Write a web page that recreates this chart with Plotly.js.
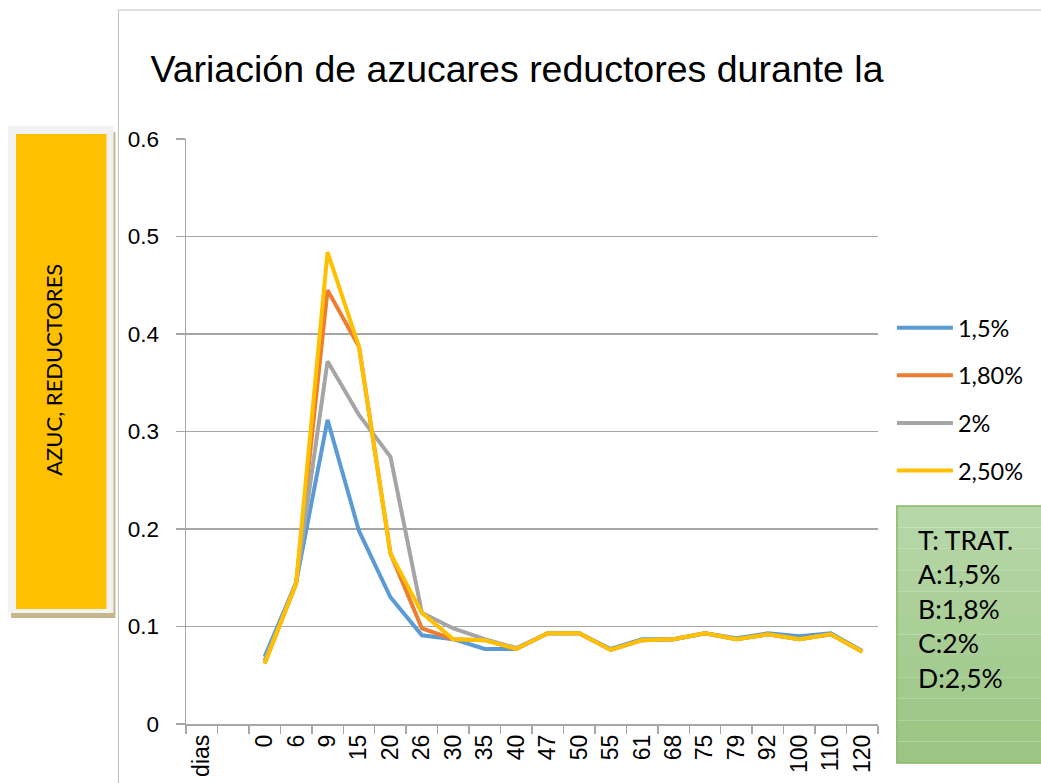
<!DOCTYPE html>
<html>
<head>
<meta charset="utf-8">
<script src="https://cdn.plot.ly/plotly-3.0.1.min.js"></script>
<style>
html,body{margin:0;padding:0;background:#fff;}
#chart{width:1041px;height:783px;}
</style>
</head>
<body>
<div id="chart"></div>
<script>
// ---- data ----
const categories = ['dias',' ','0','6','9','15','20','26','30','35','40','47','50','55','61','68','75','79','92','100','110','120'];
const seriesNames = ['1,5%','1,80%','2%','2,50%'];
const s15 = [null,null,0.069,0.145,0.312,0.198,0.130,0.091,0.087,0.077,0.077,0.093,0.093,0.077,0.087,0.087,0.093,0.088,0.093,0.090,0.093,0.075];
const s18 = [null,null,0.062,0.144,0.445,0.387,0.175,0.098,0.087,0.086,0.077,0.093,0.093,0.076,0.086,0.087,0.093,0.087,0.092,0.087,0.092,0.074];
const s20 = [null,null,0.065,0.144,0.372,0.317,0.274,0.114,0.098,0.087,0.078,0.093,0.093,0.076,0.086,0.087,0.093,0.087,0.092,0.087,0.092,0.074];
const s25 = [null,null,0.062,0.144,0.484,0.387,0.175,0.114,0.087,0.086,0.077,0.093,0.093,0.076,0.086,0.087,0.093,0.087,0.092,0.087,0.092,0.074];
const titleText = 'Variación de azucares reductores durante la';
const yTitleText = 'AZUC, REDUCTORES';
const noteLines = ['T: TRAT.','A:1,5%','B:1,8%','C:2%','D:2,5%'];

// ---- styling ----
const colors = ['#5B9BD5','#ED7D31','#A5A5A5','#FFC000'];
const W = 1041, H = 783;
const L = 186, R = 882, T = 139, B = 724;
const px = x => (x - L) / (R - L);
const py = y => (B - y) / (B - T);
const sans = 'Liberation Sans, Arial, sans-serif';
const cal = 'Lato, Carlito, Calibri, sans-serif';
const grid = '#a6a6a6';

const allSeries = [s15, s18, s20, s25];
const traces = allSeries.map((vals, i) => ({
  type: 'scatter', mode: 'lines',
  x: categories, y: vals, name: seriesNames[i],
  legendgroup: 'g' + i,
  line: {color: colors[i], width: 4},
  connectgaps: false, hoverinfo: 'x+y+name'
}));

const shapes = [];
// outer chart frame
shapes.push({type:'rect', xref:'paper', yref:'paper', x0:px(118), x1:px(1100), y0:py(10), y1:py(850),
  line:{color:'#bfbfbf', width:1}, fillcolor:'rgba(0,0,0,0)', layer:'below'});
// y-title box: shadow, light border, orange
shapes.push({type:'rect', xref:'paper', yref:'paper', x0:px(10), x1:px(115), y0:py(132), y1:py(618),
  line:{width:0}, fillcolor:'#c6b68e'});
shapes.push({type:'rect', xref:'paper', yref:'paper', x0:px(7), x1:px(113), y0:py(126), y1:py(613),
  line:{width:0}, fillcolor:'#f2f2f2'});
shapes.push({type:'rect', xref:'paper', yref:'paper', x0:px(15), x1:px(106), y0:py(134), y1:py(609),
  line:{width:0}, fillcolor:'#FFC000'});
// green note box (banded gradient)
const gTop = 506, gBot = 763, nb = 12;
const c0 = [182,215,168], c1 = [156,197,131];
for (let k = 0; k < nb; k++) {
  const t = k / (nb - 1);
  const c = c0.map((v, j) => Math.round(v + (c1[j] - v) * t));
  shapes.push({type:'rect', xref:'paper', yref:'paper', x0:px(901), x1:px(1060),
    y0:py(gTop + (gBot - gTop) * k / nb), y1:py(gTop + (gBot - gTop) * (k + 1) / nb),
    line:{width:0}, fillcolor:`rgb(${c.join(',')})`});
}
shapes.push({type:'rect', xref:'paper', yref:'paper', x0:px(901), x1:px(1060), y0:py(gTop), y1:py(gBot),
  line:{color:'#86b866', width:1.5}, fillcolor:'rgba(0,0,0,0)'});

const annotations = [
  {xref:'paper', yref:'paper', x:px(52), y:py(370), text:yTitleText, textangle:-90, showarrow:false,
   xanchor:'center', yanchor:'middle', font:{family:cal, size:22, color:'#000'}},
  {xref:'paper', yref:'paper', x:px(920), y:py(609), text:noteLines.join('<br>'), showarrow:false,
   xanchor:'left', yanchor:'middle', align:'left', font:{family:cal, size:26.5, color:'#000'}}
];

const layout = {
  width: W, height: H,
  margin: {l: L, r: W - R, t: T, b: H - B, pad: 0},
  paper_bgcolor: '#fff', plot_bgcolor: '#fff',
  title: {text: titleText, font: {family: sans, size: 37.5, color: '#000'},
    xref: 'container', x: 517 / W, xanchor: 'center', yref: 'container', y: 1 - 69 / H, yanchor: 'middle'},
  xaxis: {type: 'category', categoryorder: 'array', categoryarray: categories,
    range: [-0.5, categories.length - 0.5], fixedrange: true,
    tickson: 'boundaries', ticks: 'outside', ticklen: 8, tickcolor: grid, tickwidth: 1.5,
    tickangle: -90, tickfont: {family: sans, size: 23, color: '#000'},
    showline: true, linecolor: grid, linewidth: 1.5, showgrid: false, zeroline: false},
  yaxis: {range: [0, 0.6], tick0: 0, dtick: 0.1, fixedrange: true,
    ticks: 'outside', ticklen: 9, tickcolor: grid, tickwidth: 1.5,
    tickfont: {family: sans, size: 22.5, color: '#000'}, ticklabelstandoff: 12,
    showgrid: true, gridcolor: grid, gridwidth: 1.5,
    showline: true, linecolor: grid, linewidth: 1.5, zeroline: false},
  showlegend: true,
  legend: {x: px(896), xanchor: 'left', y: py(306), yanchor: 'top',
    traceorder: 'grouped', tracegroupgap: 14, itemwidth: 56,
    font: {family: cal, size: 23.5, color: '#000'}, bgcolor: 'rgba(0,0,0,0)'},
  shapes: shapes,
  annotations: annotations
};

Plotly.newPlot('chart', traces, layout, {displayModeBar: false, staticPlot: true});
</script>
</body>
</html>
